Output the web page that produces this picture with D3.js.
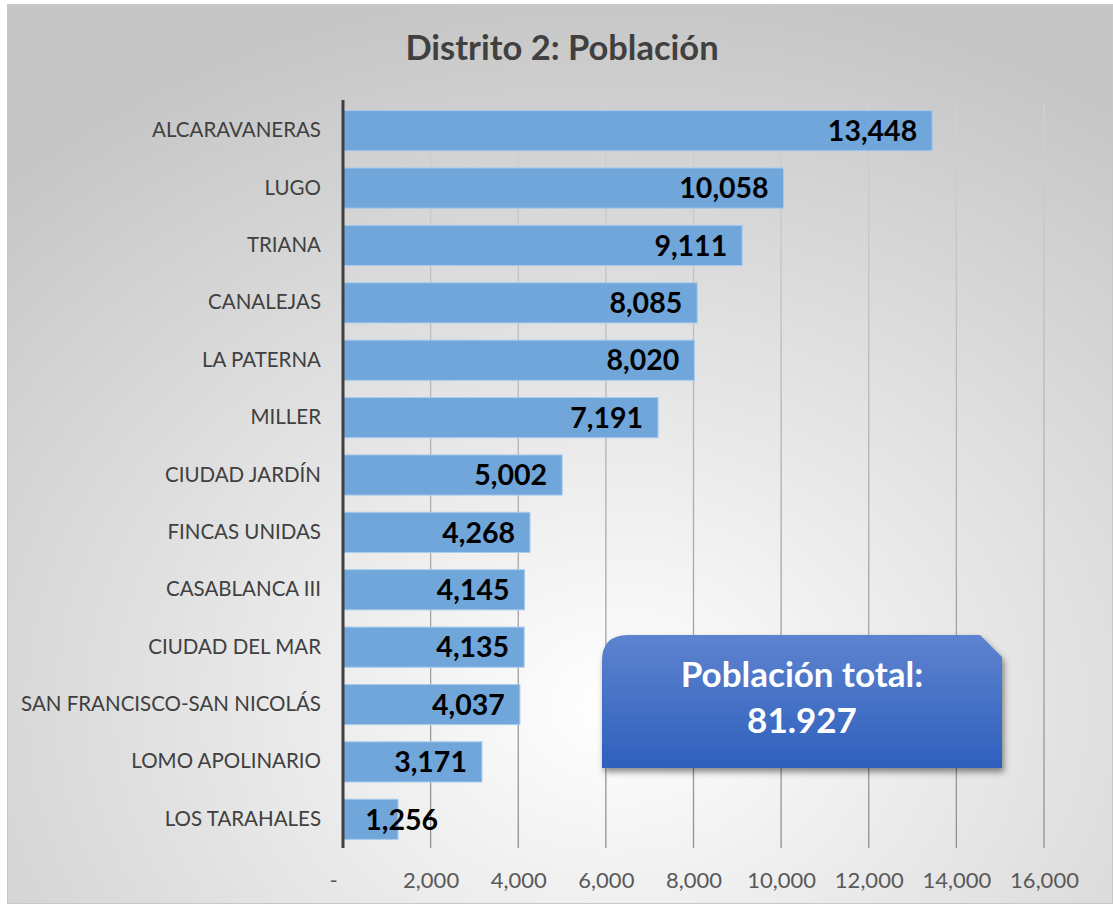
<!DOCTYPE html>
<html>
<head>
<meta charset="utf-8">
<script src="https://cdn.jsdelivr.net/npm/d3@7"></script>
<style>
  body { margin: 0; background: #fff; }
  svg { display: block; font-family: Lato, "Open Sans", sans-serif; }
</style>
</head>
<body>
<div id="vis-holder"></div>
<script>
// Data
const barrios = ["ALCARAVANERAS", "LUGO", "TRIANA", "CANALEJAS", "LA PATERNA", "MILLER",
  "CIUDAD JARDÍN", "FINCAS UNIDAS", "CASABLANCA III", "CIUDAD DEL MAR",
  "SAN FRANCISCO-SAN NICOLÁS", "LOMO APOLINARIO", "LOS TARAHALES"];
const poblacion = [13448, 10058, 9111, 8085, 8020, 7191, 5002, 4268, 4145, 4135, 4037, 3171, 1256];
const xTicks = [0, 2000, 4000, 6000, 8000, 10000, 12000, 14000, 16000];
const titulo = "Distrito 2: Población";
const totalLines = ["Población total:", "81.927"];

const width = 1113, height = 904;
const margin = { top: 102, right: 69, bottom: 56, left: 343 };

const svg = d3.select("#vis-holder")
  .append("svg")
  .attr("width", width)
  .attr("height", height);

const defs = svg.append("defs");

// background gradient
const bg = defs.append("radialGradient")
  .attr("id", "bg")
  .attr("cx", "55%").attr("cy", "78%").attr("r", "80%");
bg.append("stop").attr("offset", "0%").attr("stop-color", "#ffffff");
bg.append("stop").attr("offset", "100%").attr("stop-color", "#c6c6c6");

// grid gradient
const gg = defs.append("linearGradient")
  .attr("id", "grid")
  .attr("gradientUnits", "userSpaceOnUse")
  .attr("x1", 0).attr("y1", margin.top).attr("x2", 0).attr("y2", height - margin.bottom);
gg.append("stop").attr("offset", "0%").attr("stop-color", "#d2d2d2");
gg.append("stop").attr("offset", "100%").attr("stop-color", "#8f8f8f");

// callout gradient
const cg = defs.append("linearGradient")
  .attr("id", "callout")
  .attr("x1", 0).attr("y1", 0).attr("x2", 0).attr("y2", 1);
cg.append("stop").attr("offset", "0%").attr("stop-color", "#5d83cf");
cg.append("stop").attr("offset", "100%").attr("stop-color", "#2f60bd");

const shadow = defs.append("filter").attr("id", "shadow")
  .attr("x", "-10%").attr("y", "-10%").attr("width", "125%").attr("height", "130%");
shadow.append("feDropShadow")
  .attr("dx", 2).attr("dy", 4).attr("stdDeviation", 3)
  .attr("flood-color", "#000").attr("flood-opacity", 0.45);

svg.append("rect")
  .attr("x", 7.5).attr("y", 4.5)
  .attr("width", width - 8).attr("height", height - 5)
  .attr("fill", "url(#bg)")
  .attr("stroke", "#c8c8c8");

// Scales
const x = d3.scaleLinear()
  .domain([0, 16000])
  .range([margin.left, width - margin.right]);

const y = d3.scaleBand()
  .domain(barrios)
  .range([margin.top, height - margin.bottom])
  .paddingInner(0.3)
  .paddingOuter(0.15);

// Title
svg.append("text")
  .attr("x", 562)
  .attr("y", 60)
  .attr("text-anchor", "middle")
  .attr("font-size", "34.5px")
  .attr("font-weight", "bold")
  .attr("fill", "#404040")
  .text(titulo);

// Gridlines
svg.append("g")
  .selectAll("line")
  .data(xTicks.slice(1))
  .enter()
  .append("line")
  .attr("x1", (d) => x(d)).attr("x2", (d) => x(d))
  .attr("y1", margin.top).attr("y2", height - margin.bottom)
  .attr("stroke", "url(#grid)")
  .attr("stroke-width", 1.3);

// x axis labels
svg.append("g")
  .attr("transform", `translate(0,${height - margin.bottom})`)
  .call(d3.axisBottom(x)
    .tickValues(xTicks)
    .tickSize(0)
    .tickPadding(24)
    .tickFormat((d) => d === 0 ? "-" : d3.format(",")(d)))
  .call((g) => g.select(".domain").remove())
  .call((g) => g.selectAll("text")
    .attr("font-size", "22px")
    .attr("font-family", "Lato, sans-serif")
    .attr("fill", "#595959"))
  .call((g) => g.select(".tick text").attr("dx", "-10px"));

// Bars
svg.append("g")
  .selectAll("rect")
  .data(poblacion)
  .enter()
  .append("rect")
  .attr("x", x(0))
  .attr("y", (d, i) => y(barrios[i]))
  .attr("width", (d) => x(d) - x(0))
  .attr("height", y.bandwidth())
  .attr("fill", "#70a6da")
  .attr("stroke", "#a9cbed")
  .attr("stroke-width", 1);

// y axis
svg.append("g")
  .attr("transform", `translate(${margin.left},0)`)
  .call(d3.axisLeft(y).tickSize(0).tickPadding(22))
  .call((g) => g.select(".domain").remove())
  .call((g) => g.selectAll("text")
    .attr("font-size", "20.5px")
    .attr("font-family", "Lato, sans-serif")
    .attr("fill", "#404040"));

svg.append("line")
  .attr("x1", margin.left).attr("x2", margin.left)
  .attr("y1", margin.top - 2).attr("y2", height - margin.bottom)
  .attr("stroke", "#404040")
  .attr("stroke-width", 3);

// Value labels
svg.append("g")
  .selectAll("text")
  .data(poblacion)
  .enter()
  .append("text")
  .attr("x", (d) => Math.max(x(d) - 15, x(0) + 95))
  .attr("y", (d, i) => y(barrios[i]) + y.bandwidth() / 2)
  .attr("dy", "0.36em")
  .attr("text-anchor", "end")
  .attr("font-size", "28.5px")
  .attr("font-weight", "bold")
  .attr("fill", "#000")
  .text((d) => d3.format(",")(d));

// Callout box: rounded top-left, snipped top-right
const bx = 602, by = 635, bw = 400, bh = 133, rr = 26, snip = 22;
const p = d3.path();
p.moveTo(bx, by + rr);
p.quadraticCurveTo(bx, by, bx + rr, by);
p.lineTo(bx + bw - snip, by);
p.lineTo(bx + bw, by + snip);
p.lineTo(bx + bw, by + bh);
p.lineTo(bx, by + bh);
p.closePath();

svg.append("path")
  .attr("d", p.toString())
  .attr("fill", "url(#callout)")
  .attr("filter", "url(#shadow)");

svg.append("g")
  .selectAll("text")
  .data(totalLines)
  .enter()
  .append("text")
  .attr("x", bx + bw / 2)
  .attr("y", (d, i) => 687 + i * 46)
  .attr("text-anchor", "middle")
  .attr("font-size", "35px")
  .attr("font-weight", "bold")
  .attr("fill", "#fff")
  .text((d) => d);
</script>
</body>
</html>
